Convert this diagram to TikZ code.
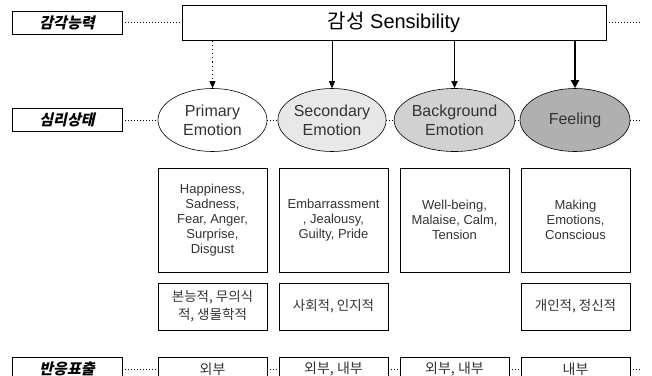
\documentclass[tikz,border=0pt]{standalone}
\usepackage{fontspec}
\setmainfont{Liberation Sans}
\newfontfamily\kr{Noto Sans CJK KR}
\newfontfamily\krlab[FakeSlant=0.22, BoldFeatures={FakeSlant=0.22}]{Noto Sans CJK KR}
\usetikzlibrary{shapes.geometric, arrows.meta}
\begin{document}
\begin{tikzpicture}[x=1pt, y=-1pt,
  lab/.style={draw, line width=0.8pt, minimum width=110pt, minimum height=23pt, inner sep=0pt,
              font=\krlab\bfseries\fontsize{15}{18}\selectfont},
  ell/.style={ellipse, draw, line width=0.6pt, minimum width=109pt, minimum height=63pt, inner sep=0pt,
              align=center, text=black!80, font=\fontsize{16}{19}\selectfont},
  tbox/.style={draw, line width=0.6pt, minimum width=109pt, minimum height=104pt, inner sep=0pt,
              align=center, text=black!80, font=\fontsize{13}{15}\selectfont},
  kbox/.style={draw, line width=0.6pt, minimum width=109pt, minimum height=47pt, inner sep=0pt,
              align=center, text=black!80, font=\kr\fontsize{13.5}{18}\selectfont},
  bbox/.style={draw, line width=0.6pt, minimum width=109pt, minimum height=24pt, inner sep=0pt,
              align=center, text=black!80, font=\kr\fontsize{14}{17}\selectfont},
  dots/.style={line width=1pt, dash pattern=on 1pt off 2pt},
  arr/.style={-{Triangle[length=7pt,width=6pt]}}
]
\useasboundingbox (0,0) rectangle (652,375);
\clip (0,0) rectangle (652,375);

% row 1
\node[lab] (l1) at (67,22.5) {감각능력};
\node[draw, line width=0.7pt, minimum width=424pt, minimum height=35pt, inner sep=0pt,
      font=\fontsize{20}{22}\selectfont] (sens) at (394,22.5) {{\kr 감성} Sensibility};
\coordinate (e1) at (640,22.5);
\draw[dots] (l1.east) -- (sens.west);
\draw[dots] (sens.east) -- (e1);

% row 2
\node[lab] (l2) at (67,120) {심리상태};
\node[ell] (prim) at (212.5,120) {Primary\\Emotion};
\node[ell, minimum width=106pt, fill=black!9] (sec) at (332,120) {Secondary\\Emotion};
\node[ell, fill=black!18] (bg) at (454.5,120) {Background\\Emotion};
\node[ell, minimum width=110pt, fill=black!31] (feel) at (575,120) {Feeling};
\coordinate (e2) at (640,120);
\draw[dots] (l2.east) -- (prim.west);
\draw[dots] (prim.east) -- (sec.west);
\draw[dots] (sec.east) -- (bg.west);
\draw[dots] (bg.east) -- (feel.west);
\draw[dots] (feel.east) -- (e2);

% arrows
\draw[arr, line width=0.9pt, dash pattern=on 1.2pt off 3pt] (sens.south -| prim.north) -- (prim.north);
\draw[arr, line width=0.7pt] (sens.south -| sec.north) -- (sec.north);
\draw[arr, line width=1.2pt] (sens.south -| bg.north) -- (bg.north);
\draw[-{Triangle[length=8pt,width=8pt]}, line width=2.2pt] (sens.south -| feel.north) -- (feel.north);

% boxes
\node[tbox] (t1) at (212.5,220) {Happiness,\\Sadness,\\Fear, Anger,\\Surprise,\\Disgust};
\node[tbox] (t2) at (333.5,220) {Embarrassment\\, Jealousy,\\Guilty, Pride};
\node[tbox] (t3) at (454.5,220) {Well-being,\\Malaise, Calm,\\Tension};
\node[tbox] (t4) at (575.5,220) {Making\\Emotions,\\Conscious};

\node[kbox] (k1) at (212.5,306.5) {본능적, 무의식\\적, 생물학적};
\node[kbox] (k2) at (333.5,306.5) {사회적, 인지적};
\node[kbox] (k4) at (575.5,306.5) {개인적, 정신적};

% row 3
\node[lab] (l3) at (67,369) {반응표출};
\node[bbox] (b1) at (212.5,369) {외부};
\node[bbox] (b2) at (333.5,369) {외부, 내부};
\node[bbox] (b3) at (454.5,369) {외부, 내부};
\node[bbox] (b4) at (575.5,369) {내부};
\coordinate (e3) at (640,369);
\draw[dots] (l3.east) -- (b1.west);
\draw[dots] (b1.east) -- (b2.west);
\draw[dots] (b2.east) -- (b3.west);
\draw[dots] (b3.east) -- (b4.west);
\draw[dots] (b4.east) -- (e3);
\end{tikzpicture}
\end{document}
